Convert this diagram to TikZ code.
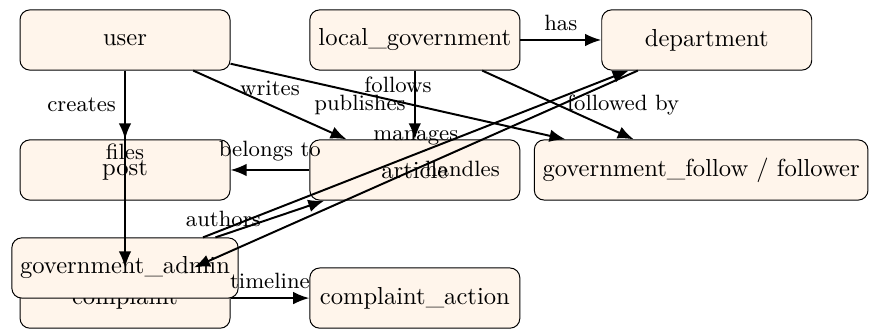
\documentclass[tikz,border=0pt]{standalone}
\usepackage{xcolor}
\usepackage{tikz}
\usetikzlibrary{shapes,arrows.meta,positioning}

\begin{document}
\begin{tikzpicture}[on grid]
    % Styles
    \tikzstyle{entity} = [rectangle, draw, fill=orange!8, minimum width=3cm, minimum height=0.86cm, rounded corners]
    \tikzstyle{line} = [draw, thick, -{Latex[length=2.3mm, width=1.8mm]}, every node/.style={font=\small}]

    \useasboundingbox (-1.786,0.571) rectangle (10.685,-4.143);

    % Nodes
    \node [entity] (user) {user};
    \node [entity, right=4.14cm of user] (government) {local\_government};
    \node [entity, right=4.17cm of government] (department) {department};
    \node [entity, below=1.857cm of user] (post) {post};
    \node [entity, below=1.857cm of government] (article) {article};
    \node [entity, right=4.09cm of article] (follow) {government\_follow / follower};
    \node [entity, below=1.83cm of post] (complaint) {complaint};
    \node [entity, right=4.14cm of complaint] (action) {complaint\_action};
    \node [entity, above=0.43cm of complaint] (admin) {government\_admin};

    % Edges
    \path [line] (user) -- node[left] {creates} (post);
    \path [line] (user) -- node[above] {writes} (article);
    \path [line] (user) -- node[above] {follows} (follow);
    \path [line] (user) -- node[above] {files} (complaint);
    \path [line] (government) -- node[left] {publishes} (article);
    \path [line] (government) -- node[above] {has} (department);
    \path [line] (government) -- node[right] {followed by} (follow);
    \path [line] (article) -- node[above] {belongs to} (post);
    \path [line] (admin) -- node[left] {authors} (article);
    \path [line] (admin) -- node[above] {manages} (department);
    \path [line] (department) -- node[right] {handles} (complaint);
    \path [line] (complaint) -- node[above] {timeline} (action);
\end{tikzpicture}
\end{document}
